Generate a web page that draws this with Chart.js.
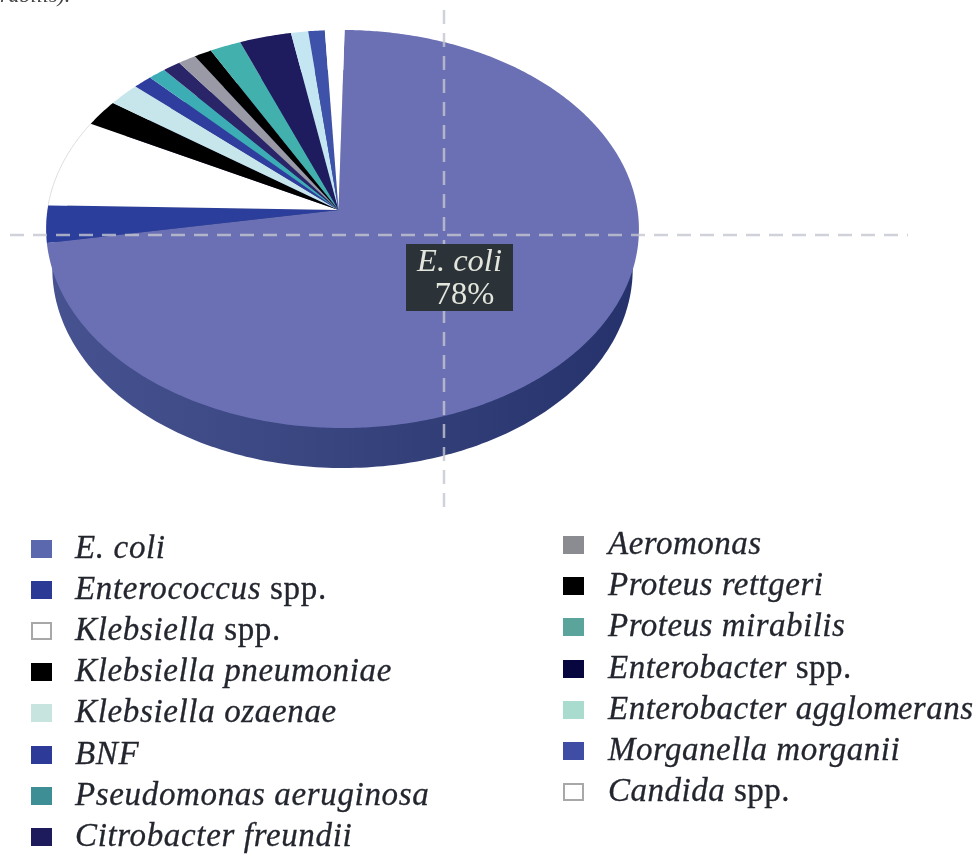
<!DOCTYPE html>
<html><head><meta charset="utf-8">
<script src="https://cdn.jsdelivr.net/npm/chart.js@4"></script>
<style>
html,body{margin:0;padding:0;background:#fff;width:978px;height:856px;overflow:hidden}
#wrap{position:relative;width:978px;height:856px;filter:blur(0.6px)}
canvas{position:absolute;left:0;top:0}
.row{position:absolute;font-family:"Liberation Serif",serif;font-size:33px;letter-spacing:.65px;line-height:36px;color:#23262e;-webkit-text-stroke:.3px #23262e;white-space:nowrap}
.row i{font-style:italic}
.sw{position:absolute;box-sizing:border-box;width:21px;height:18px}
#cut{position:absolute;left:0;top:-18px;font:italic 22px "Liberation Serif",serif;color:#444}
#box{position:absolute;left:406px;top:244px;width:107px;height:67px;background:#2b3338;color:#e3e6dc;font-family:"Liberation Serif",serif;font-size:32.5px;line-height:33px;text-align:center}
#box span{position:relative;left:5px}
</style></head><body>
<div id="wrap"><canvas id="c" width="978" height="856"></canvas><div id="cut">rabilis).</div></div>
<script>
const categories=["E. coli","Enterococcus spp.","Klebsiella spp.","Klebsiella pneumoniae","Klebsiella ozaenae","BNF","Pseudomonas aeruginosa","Citrobacter freundii","Aeromonas","Proteus rettgeri","Proteus mirabilis","Enterobacter spp.","Enterobacter agglomerans","Morganella morganii","Candida spp."];
const sliceShares=[71.97,3.06,7.25,2.19,1.92,1.14,1.06,1.08,1.08,1.06,1.89,3.11,1.03,0.99,1.17];
const sliceColors=["#6b70b5","#2b3e9b","#ffffff","#000000","#c6e6ec","#2f3d9f","#3cadb5","#2a2468","#999aa5","#000000","#42b0ad","#1f1b5f","#c3e6f2","#3d52a8","#ffffff"];
const swatchColors=["#5b68ad","#2b3a94","#ffffff","#000000","#c8e4df","#2d3a97","#3e8f95","#1e1b5c","#8b8c92","#000000","#5ba49b","#07063f","#a9dccf","#3f4da5","#ffffff"];
const calloutName="E. coli";
const calloutPercent="78%";
const romanSuffix=[null," spp."," spp.",null,null,null,null,null,null,null,null," spp.",null,null," spp."];

const view={ax:338.5,ay:210,A:295,B:197.2,k:-0.0955,m:-0.0135,depth:40,shrink:0.979};
function proj(t,drop=0){const X=Math.cos(t),Y=Math.sin(t),w=1+view.k*Y+view.m*X;const s=drop?view.shrink:1;
  const cx=342;const px=view.ax+view.A*X/w;
  return [cx+(px-cx)*s, view.ay+drop+view.B*Y/w];}
const pie3d={id:'pie3d',
 beforeDatasetDraw(chart,args){
  const ctx=chart.ctx,arcs=args.meta.data;
  const g=ctx.createLinearGradient(50,0,630,0);
  g.addColorStop(0,'#475391');g.addColorStop(.45,'#3a4680');g.addColorStop(1,'#25326c');
  ctx.save();ctx.fillStyle=g;
  ctx.beginPath();
  for(let a=0;a<=360;a+=1){const p=proj(a*Math.PI/180,view.depth);a?ctx.lineTo(p[0],p[1]):ctx.moveTo(p[0],p[1]);}
  ctx.closePath();ctx.fill();
  arcs.forEach((arc,i)=>{
    const {startAngle:s,endAngle:e}=arc.getProps(['startAngle','endAngle'],true);
    ctx.beginPath();ctx.moveTo(view.ax,view.ay);
    const n=Math.max(4,Math.ceil((e-s)/0.01));
    for(let j=0;j<=n;j++){const p=proj(s+(e-s)*j/n);ctx.lineTo(p[0],p[1]);}
    ctx.closePath();ctx.fillStyle=sliceColors[i];ctx.fill();
    if(i===2){ctx.beginPath();
      for(let j=0;j<=n;j++){const p=proj(s+(e-s)*j/n);j?ctx.lineTo(p[0],p[1]):ctx.moveTo(p[0],p[1]);}
      ctx.strokeStyle='#dcdcdc';ctx.lineWidth=1;ctx.stroke();}
  });
  ctx.restore();
  return false;
 },
 afterDatasetsDraw(chart){
  const ctx=chart.ctx;ctx.save();ctx.setLineDash([14,9]);ctx.lineWidth=2.5;
  ctx.strokeStyle='rgba(196,198,208,.8)';
  ctx.beginPath();ctx.moveTo(10,235);ctx.lineTo(908,235);ctx.stroke();
  ctx.beginPath();ctx.moveTo(444,10);ctx.lineTo(444,508);ctx.stroke();
  ctx.restore();
 }};

new Chart(document.getElementById('c'),{
 type:'pie',
 data:{labels:categories,datasets:[{data:sliceShares,backgroundColor:sliceColors,borderWidth:0}]},
 options:{responsive:false,animation:false,rotation:1.3,
  plugins:{legend:{display:false},tooltip:{enabled:false}},
  layout:{padding:{bottom:300}}},
 plugins:[pie3d]});

const wrap=document.getElementById('wrap');
const box=document.createElement('div');box.id='box';
box.innerHTML='<i style="display:block">'+calloutName+'</i><span>'+calloutPercent+'</span>';wrap.appendChild(box);
categories.forEach((c,i)=>{
  const left=i<8;
  const cy=left?548+i*41.1:544+(i-8)*41.2;
  const sw=document.createElement('div');sw.className='sw';
  sw.style.left=(left?31:563)+'px';sw.style.top=(cy-8)+'px';sw.style.background=swatchColors[i];
  if(swatchColors[i]==='#ffffff')sw.style.border='2px solid #a8a8a8';
  wrap.appendChild(sw);
  const r=document.createElement('div');r.className='row';
  r.style.left=(left?75:608)+'px';r.style.top=(cy-19)+'px';
  if(!left)r.style.letterSpacing='.5px';
  const suf=romanSuffix[i];
  const name=suf?c.slice(0,-suf.length):c;
  const it=document.createElement('i');it.textContent=name;r.appendChild(it);
  if(suf)r.appendChild(document.createTextNode(suf));
  wrap.appendChild(r);
});
</script></body></html>
